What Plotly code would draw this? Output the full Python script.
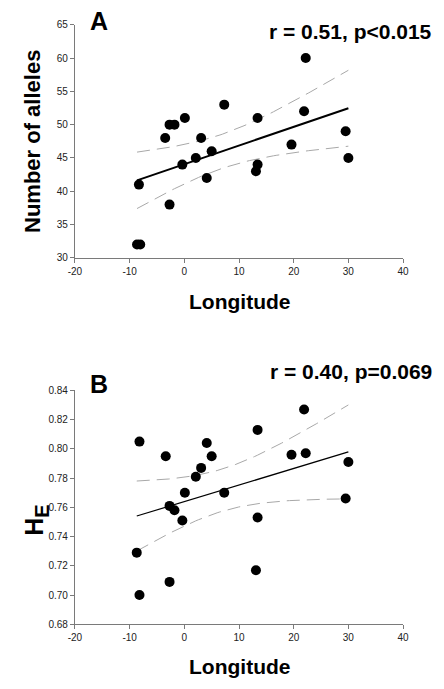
import numpy as np
import plotly.graph_objects as go

# Data
longitude = [-8.3, -8.65, -8.06, -3.5, -2.7, -1.8, -2.7, 0.1, -0.36, 2.1, 3.07,
             4.1, 5.0, 7.3, 13.4, 13.1, 13.4, 19.6, 21.9, 22.2, 29.5, 30.0]
alleles = [41, 32, 32, 48, 50, 50, 38, 51, 44, 45, 48,
           42, 46, 53, 51, 43, 44, 47, 52, 60, 49, 45]

longitude_b = [-8.2, -8.7, -8.2, -3.4, -2.7, -1.8, -2.7, -0.36, 0.1, 2.1, 3.07,
               4.1, 5.0, 7.3, 13.4, 13.4, 13.1, 19.6, 21.9, 22.2, 30.0, 29.5]
he = [0.805, 0.729, 0.700, 0.795, 0.761, 0.758, 0.709, 0.751, 0.770, 0.781, 0.787,
      0.804, 0.795, 0.770, 0.813, 0.753, 0.717, 0.796, 0.827, 0.797, 0.791, 0.766]

x_ticks = [-20, -10, 0, 10, 20, 30, 40]
ya_ticks = [30, 35, 40, 45, 50, 55, 60, 65]
yb_ticks = [0.68, 0.70, 0.72, 0.74, 0.76, 0.78, 0.80, 0.82, 0.84]

T_975_DF20 = 2.086


def fit(xs, ys):
    x = np.array(xs, float)
    y = np.array(ys, float)
    n = len(x)
    b, a = np.polyfit(x, y, 1)
    res = y - (a + b * x)
    s = np.sqrt(np.sum(res ** 2) / (n - 2))
    xg = np.linspace(x.min(), x.max(), 80)
    yg = a + b * xg
    se = s * np.sqrt(1.0 / n + (xg - x.mean()) ** 2 / np.sum((x - x.mean()) ** 2))
    return xg, yg, yg + T_975_DF20 * se, yg - T_975_DF20 * se


W, H = 444, 689
fig = go.Figure()

xdom = [70 / W, 408 / W]
ya_dom = [1 - 257 / H, 1 - 20 / H]
yb_dom = [1 - 629.3 / H, 1 - 391.7 / H]

band_style = dict(color="#a8a8a8", width=1, dash="13px,7px")

xg, yg, up, lo = fit(longitude, alleles)
fig.add_trace(go.Scatter(x=xg, y=up, mode="lines", line=band_style, xaxis="x", yaxis="y"))
fig.add_trace(go.Scatter(x=xg, y=lo, mode="lines", line=band_style, xaxis="x", yaxis="y"))
fig.add_trace(go.Scatter(x=xg, y=yg, mode="lines", line=dict(color="black", width=2), xaxis="x", yaxis="y"))
fig.add_trace(go.Scatter(x=longitude, y=alleles, mode="markers",
                         marker=dict(color="black", size=10), xaxis="x", yaxis="y"))

xg, yg, up, lo = fit(longitude_b, he)
fig.add_trace(go.Scatter(x=xg, y=up, mode="lines", line=band_style, xaxis="x2", yaxis="y2"))
fig.add_trace(go.Scatter(x=xg, y=lo, mode="lines", line=band_style, xaxis="x2", yaxis="y2"))
fig.add_trace(go.Scatter(x=xg, y=yg, mode="lines", line=dict(color="black", width=1.2), xaxis="x2", yaxis="y2"))
fig.add_trace(go.Scatter(x=longitude_b, y=he, mode="markers",
                         marker=dict(color="black", size=10), xaxis="x2", yaxis="y2"))

axis_common = dict(showgrid=False, zeroline=False, showline=True, linecolor="#7a7a7a",
                   linewidth=1, ticks="outside", ticklen=4, tickcolor="#7a7a7a",
                   tickfont=dict(family="Arial, Liberation Sans", size=10, color="#222"))

fig.update_layout(
    width=W, height=H, margin=dict(l=0, r=0, t=0, b=0),
    paper_bgcolor="white", plot_bgcolor="white", showlegend=False,
    xaxis=dict(domain=xdom, anchor="y", range=[-20, 40], tickvals=x_ticks,
               ticktext=[str(v) for v in x_ticks], **axis_common),
    yaxis=dict(domain=ya_dom, anchor="x", range=[30, 65], tickvals=ya_ticks,
               ticktext=[str(v) for v in ya_ticks], **axis_common),
    xaxis2=dict(domain=xdom, anchor="y2", range=[-20, 40], tickvals=x_ticks,
                ticktext=[str(v) for v in x_ticks], **axis_common),
    yaxis2=dict(domain=yb_dom, anchor="x2", range=[0.68, 0.84], tickvals=yb_ticks,
                ticktext=["%.2f" % v for v in yb_ticks], **axis_common),
)


def px_x(p):
    return p / W


def px_y(p):
    return 1 - p / H


bold = "Arial, Liberation Sans"
ann = [
    dict(text="<b>A</b>", x=px_x(95), y=px_y(16), size=25, xanchor="center"),
    dict(text="<b>B</b>", x=px_x(95), y=px_y(385), size=25, xanchor="center"),
    dict(text="<b>r = 0.51, p<0.015</b>", x=px_x(440), y=px_y(27), size=21, xanchor="right"),
    dict(text="<b>r = 0.40, p=0.069</b>", x=px_x(440), y=px_y(372), size=21, xanchor="right"),
    dict(text="<b>Longitude</b>", x=px_x(239), y=px_y(301), size=21, xanchor="center"),
    dict(text="<b>Longitude</b>", x=px_x(239), y=px_y(672), size=21, xanchor="center"),
]
for a in ann:
    fig.add_annotation(text=a["text"], x=a["x"], y=a["y"], xref="paper", yref="paper",
                       xanchor=a["xanchor"], yanchor="middle", showarrow=False,
                       font=dict(family=bold, size=a["size"], color="black"))

fig.add_annotation(text="<b>Number of alleles</b>", x=px_x(27), y=px_y(139), xref="paper",
                   yref="paper", xanchor="center", yanchor="middle", showarrow=False,
                   textangle=-90, font=dict(family=bold, size=22, color="black"))
fig.add_annotation(text="<b>H<sub><span style='font-size:20px'>E</span></sub></b>",
                   x=px_x(30), y=px_y(524), xref="paper",
                   yref="paper", xanchor="center", yanchor="middle", showarrow=False,
                   textangle=-90, font=dict(family=bold, size=25, color="black"))

fig.write_html("out.html", config={"displayModeBar": False},
               post_script="document.body.style.margin='0';")
